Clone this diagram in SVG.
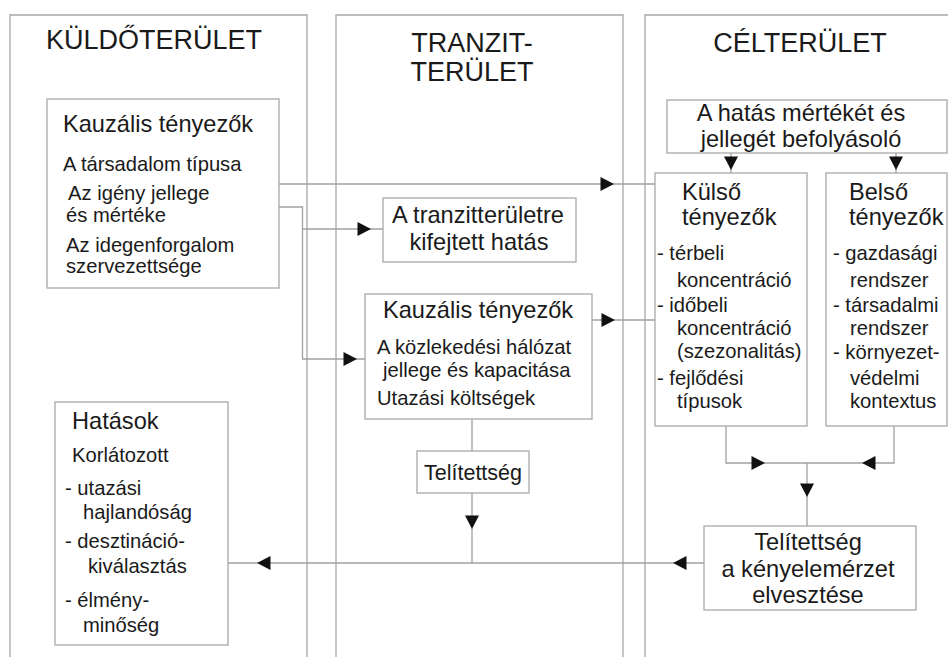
<svg xmlns="http://www.w3.org/2000/svg" xmlns:xlink="http://www.w3.org/1999/xlink" width="948" height="657" viewBox="0 0 948 657">
<style>
.col{fill:none;stroke:#a8a8a8;stroke-width:1.3}
.box{fill:#fff;stroke:#a8a8a8;stroke-width:1.3}
.ln{fill:none;stroke:#a0a0a0;stroke-width:1.3}
text{font-family:"Liberation Sans",Arial,sans-serif;fill:#1a1a1a}
.t{font-size:27px}
.h{font-size:23.6px}
.b{font-size:20.2px}
.m{text-anchor:middle}
</style>
<defs>
<path id="ah" d="M0,0 L-13.5,-7 L-13.5,7 Z" fill="#111"/>
</defs>
<rect x="0" y="0" width="948" height="657" fill="#fff"/>
<g id="col-kuldo">
<path class="col" d="M10,660 V15 H307 V660"/>
<text class="t m" x="154" y="49">KÜLDŐTERÜLET</text>
</g>
<g id="col-tranzit">
<path class="col" d="M336,660 V15 H623 V660"/>
<text class="t m" x="472" y="52">TRANZIT-</text>
<text class="t m" x="472" y="81">TERÜLET</text>
</g>
<g id="col-cel">
<path class="col" d="M645,660 V15 H952"/>
<text class="t m" x="800" y="52">CÉLTERÜLET</text>
</g>
<g id="connectors">
<path class="ln" d="M279,184 H655"/>
<path class="ln" d="M279,207 H302.5 V359 H365 M302.5,229 H383"/>
<path class="ln" d="M592,320 H655"/>
<path class="ln" d="M472,419 V451 M472,493 V563"/>
<path class="ln" d="M704,563 H228"/>
<path class="ln" d="M731,153 V173 M896,153 V173"/>
<path class="ln" d="M726,426 V463 H894 V426"/>
<path class="ln" d="M807,463 V526"/>
<use xlink:href="#ah" transform="translate(614,184)"/>
<use xlink:href="#ah" transform="translate(371,229)"/>
<use xlink:href="#ah" transform="translate(357,359)"/>
<use xlink:href="#ah" transform="translate(615,320)"/>
<use xlink:href="#ah" transform="translate(472,529) rotate(90)"/>
<use xlink:href="#ah" transform="translate(673,563) rotate(180)"/>
<use xlink:href="#ah" transform="translate(257,563) rotate(180)"/>
<use xlink:href="#ah" transform="translate(731,170) rotate(90)"/>
<use xlink:href="#ah" transform="translate(896,170) rotate(90)"/>
<use xlink:href="#ah" transform="translate(765,463)"/>
<use xlink:href="#ah" transform="translate(862,463) rotate(180)"/>
<use xlink:href="#ah" transform="translate(807,497) rotate(90)"/>
</g>
<g id="kuldo-kauzalis">
<rect class="box" x="47" y="99" width="232" height="189"/>
<text class="h" x="63" y="132">Kauzális tényezők</text>
<text class="b" x="63" y="171">A társadalom típusa</text>
<text class="b" x="68" y="200">Az igény jellege</text>
<text class="b" x="66" y="222">és mértéke</text>
<text class="b" x="66" y="252">Az idegenforgalom</text>
<text class="b" x="66" y="273">szervezettsége</text>
</g>
<g id="hatasok">
<rect class="box" x="55" y="402" width="173" height="243"/>
<text class="h" x="72" y="429">Hatások</text>
<text class="b" x="72" y="462">Korlátozott</text>
<text class="b" x="65" y="495">- utazási</text>
<text class="b" x="83" y="519">hajlandóság</text>
<text class="b" x="65" y="548">- desztináció-</text>
<text class="b" x="88" y="573">kiválasztás</text>
<text class="b" x="65" y="607">- élmény-</text>
<text class="b" x="83" y="632">minőség</text>
</g>
<g id="tranzit-hatas">
<rect class="box" x="383" y="198" width="193" height="64"/>
<text class="h m" x="478" y="223">A tranzitterületre</text>
<text class="h m" x="479" y="250">kifejtett hatás</text>
</g>
<g id="tranzit-kauzalis">
<rect class="box" x="365" y="294" width="227" height="125"/>
<text class="h" x="383" y="318">Kauzális tényezők</text>
<text class="b" x="377" y="354">A közlekedési hálózat</text>
<text class="b" x="383" y="377">jellege és kapacitása</text>
<text class="b" x="377" y="405">Utazási költségek</text>
</g>
<g id="tranzit-telitettseg">
<rect class="box" x="417" y="451" width="112" height="42"/>
<text class="h m" x="473" y="480" style="font-size:21.5px">Telítettség</text>
</g>
<g id="befolyasolo">
<rect class="box" x="667" y="100" width="280" height="53"/>
<text class="h m" x="801" y="121">A hatás mértékét és</text>
<text class="h m" x="801" y="147">jellegét befolyásoló</text>
</g>
<g id="kulso">
<rect class="box" x="655" y="173" width="152" height="253"/>
<text class="h" x="682" y="200">Külső</text>
<text class="h" x="682" y="225">tényezők</text>
<text class="b" x="657" y="260">- térbeli</text>
<text class="b" x="677" y="287">koncentráció</text>
<text class="b" x="657" y="312">- időbeli</text>
<text class="b" x="677" y="335">koncentráció</text>
<text class="b" x="677" y="358">(szezonalitás)</text>
<text class="b" x="657" y="385">- fejlődési</text>
<text class="b" x="677" y="408">típusok</text>
</g>
<g id="belso">
<rect class="box" x="826" y="173" width="121" height="253"/>
<text class="h" x="849" y="200">Belső</text>
<text class="h" x="849" y="225">tényezők</text>
<text class="b" x="833" y="260">- gazdasági</text>
<text class="b" x="850" y="287">rendszer</text>
<text class="b" x="833" y="312">- társadalmi</text>
<text class="b" x="850" y="335">rendszer</text>
<text class="b" x="833" y="359">- környezet-</text>
<text class="b" x="850" y="385">védelmi</text>
<text class="b" x="850" y="408">kontextus</text>
</g>
<g id="cel-telitettseg">
<rect class="box" x="704" y="526" width="212" height="84"/>
<text class="h m" x="808" y="550">Telítettség</text>
<text class="h m" x="808" y="577">a kényelemérzet</text>
<text class="h m" x="808" y="603">elvesztése</text>
</g>
</svg>
